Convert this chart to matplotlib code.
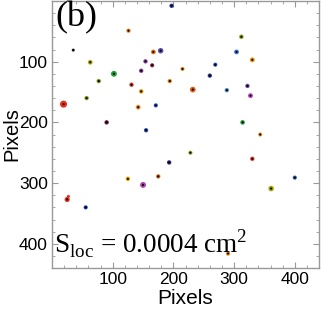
import numpy as np
import matplotlib.pyplot as plt
from matplotlib.ticker import MultipleLocator, FixedLocator

# spot positions (image pixels)
x = [197, 126, 35, 167, 179, 63, 154, 165, 215, 147, 102, 77, 194, 131, 147,
     57, 171, 19, 142, 90, 155, 312, 304, 330, 269, 260, 232, 288, 322, 327,
     314, 343, 193, 125, 175, 150, 25, 55.5, 228, 330, 400, 361, 290]
y = [8, 49, 81, 84, 82, 101, 99.5, 106, 112, 115, 120, 132, 132, 138, 149,
     160, 172, 170, 175, 200, 213, 59, 84, 97, 105, 123, 146, 147, 140, 156,
     200, 220, 266, 293, 289, 303, 327, 340, 250, 260, 291, 309, 416]
colors = ['#2b3f9e', '#f28c1e', '#444444', '#e8761a', '#5a55b0', '#b8b000',
          '#8e3fa8', '#a0203a', '#f39a1e', '#8a3a9a', '#20a040', '#7a9a10',
          '#f08a1a', '#e03a2a', '#f0a010', '#8aa010', '#3050c0', '#e83020',
          '#f09020', '#701840', '#3050b0', '#8ab020', '#3a7ad0', '#f0a000',
          '#3050c0', '#304090', '#e06010', '#4a90d0', '#6a4aa0', '#c050c0',
          '#20a040', '#f0a030', '#302a80', '#f0b000', '#d07010', '#b040b0',
          '#e83020', '#2040c0', '#8ab020', '#e83a2a', '#2a60b0', '#a8a800',
          '#f09020']
sizes = [10, 10, 5, 12, 16, 12, 10, 9, 9, 10, 18, 10, 10, 10, 11,
         10, 9, 26, 12, 10, 10, 11, 12, 13, 9, 10, 17, 10, 10, 13,
         11, 9, 10, 11, 10, 18, 14, 9, 9, 10, 9, 16, 10]

plt.rcParams['font.family'] = ['Liberation Sans', 'DejaVu Sans']
plt.rcParams['mathtext.fontset'] = 'custom'
plt.rcParams['mathtext.rm'] = 'Liberation Serif'

fig = plt.figure(figsize=(3.21, 3.11), dpi=100)
ax = fig.add_axes([0.162, 0.138, 0.832, 0.859])

ax.scatter(x, y, s=sizes, c=colors, edgecolors='none', zorder=2)
ax.scatter(x, y, s=2.5, c='black', edgecolors='none', zorder=3)
# small offset red spot near the lower-left cluster
ax.scatter([27], [322], s=5, c='#e83020', edgecolors='none', zorder=2)

ax.set_xlim(0, 440)
ax.set_ylim(440, 0)

ax.xaxis.set_major_locator(FixedLocator([100, 200, 300, 400]))
ax.yaxis.set_major_locator(FixedLocator([100, 200, 300, 400]))
ax.xaxis.set_minor_locator(MultipleLocator(20))
ax.yaxis.set_minor_locator(MultipleLocator(20))
ax.tick_params(which='both', direction='in', top=True, right=True,
               color='#999999', labelsize=12.5, pad=3)
ax.tick_params(which='major', length=4, width=0.8)
ax.tick_params(which='minor', length=2.5, width=0.6)
ax.tick_params(axis='x', labeltop=False)
ax.tick_params(axis='y', labelright=False)
for sp in ax.spines.values():
    sp.set_color('#999999')
    sp.set_linewidth(1)

ax.set_xlabel('Pixels', fontsize=15, labelpad=1)
ax.set_ylabel('Pixels', fontsize=14.5, va='center')
ax.yaxis.set_label_coords(-0.152, 0.5)

ax.text(0.012, 1.0, '(b)', transform=ax.transAxes, ha='left', va='top',
        fontsize=26, family='Liberation Serif')
ax.text(0.008, 0.055, r'S$_{\rm loc}$ = 0.0004 cm$^2$', transform=ax.transAxes,
        ha='left', va='baseline', fontsize=19.5, family='Liberation Serif')

fig.savefig('out.png', dpi=100)
